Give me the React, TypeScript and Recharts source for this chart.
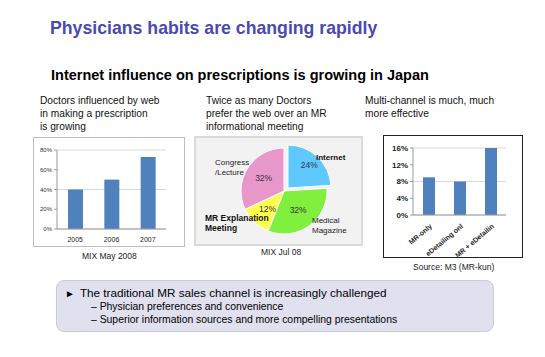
import React from "react";
import { BarChart, Bar, XAxis, YAxis, CartesianGrid, PieChart, Pie, Cell } from "recharts";

// chart 1: doctors influenced by web
const yearLabels = ["2005", "2006", "2007"];
const webInfluence = [40, 50, 73];
const yearTicks = [0, 20, 40, 60, 80];

// chart 2: preferred information source
const sourceNames = ["Internet", "Medical Magazine", "MR Explanation Meeting", "Congress /Lecture"];
const sourceShares = [24, 32, 12, 32];
const sourceColors = ["#5FC9FF", "#80EF3E", "#FFFF4F", "#E897CA"];

// chart 3: multi-channel effectiveness
const channelLabels = ["MR-only", "eDetailing onl", "MR + eDetailin"];
const channelEffect = [9, 8, 16];
const channelTicks = [0, 4, 8, 12, 16];

const yearData = yearLabels.map((year, i) => ({ year, value: webInfluence[i] }));
const sourceData = sourceNames.map((name, i) => ({ name, value: sourceShares[i] }));
const channelData = channelLabels.map((channel, i) => ({ channel, value: channelEffect[i] }));

const FONT = "Liberation Sans, Arial, sans-serif";
const RAD = Math.PI / 180;

const abs = (left: number, top: number, extra: React.CSSProperties = {}): React.CSSProperties => ({
  position: "absolute",
  left,
  top,
  whiteSpace: "nowrap",
  ...extra,
});

// percent label inside each slice; exploded pie only labels the Internet slice
const pctLabel = (onlyFirst: boolean) => (props: any) => {
  const { cx, cy, midAngle, outerRadius, index, value } = props;
  if (onlyFirst !== (index === 0)) return null;
  const r = outerRadius * (index === 0 ? 0.72 : 0.56);
  const x = cx + r * Math.cos(-midAngle * RAD);
  const y = cy + r * Math.sin(-midAngle * RAD);
  return (
    <text x={x} y={y} textAnchor="middle" dominantBaseline="central" fontSize={8.5} fill="#333" fontFamily={FONT}>
      {value}%
    </text>
  );
};

const RotatedTick = (props: any) => {
  const { x, y, payload } = props;
  return (
    <g transform={`translate(${x + 4},${y + 4})`}>
      <text textAnchor="end" transform="rotate(-40)" fontSize={7} fontWeight="bold" fill="#222" fontFamily={FONT}>
        {payload.value}
      </text>
    </g>
  );
};

export default function App() {
  return (
    <div style={{ position: "fixed", left: 0, top: 0, width: 545, height: 357, background: "#fff", fontFamily: FONT, overflow: "hidden" }}>
      <div style={abs(50, 18, { fontSize: 17.7, fontWeight: "bold", color: "#4A4AAE" })}>
        Physicians habits are changing rapidly
      </div>
      <div style={abs(51, 67, { fontSize: 14.5, fontWeight: "bold", color: "#000" })}>
        Internet influence on prescriptions is growing in Japan
      </div>

      <div style={abs(40, 94, { fontSize: 10.2, lineHeight: "13px", color: "#111" })}>
        Doctors influenced by web<br />in making a prescription<br />is growing
      </div>
      <div style={abs(206, 94, { fontSize: 10.2, lineHeight: "13px", color: "#111" })}>
        Twice as many Doctors<br />prefer the web over an MR<br />informational meeting
      </div>
      <div style={abs(365, 94, { fontSize: 10.2, lineHeight: "13px", color: "#111" })}>
        Multi-channel is much, much<br />more effective
      </div>

      {/* chart 1 */}
      <div style={abs(33, 137, { width: 150, height: 108, border: "1px solid #BFBFBF", background: "#fff" })}>
        <BarChart width={150} height={108} data={yearData} margin={{ top: 12, right: 18, left: 0, bottom: 0 }}>
          <CartesianGrid vertical={false} stroke="#D9D9D9" />
          <XAxis
            dataKey="year"
            height={17}
            tickLine={false}
            axisLine={{ stroke: "#9A9A9A" }}
            tick={{ fontSize: 7, fill: "#222", fontFamily: FONT }}
            tickMargin={2}
          />
          <YAxis
            width={23}
            domain={[0, 80]}
            ticks={yearTicks}
            tickFormatter={(v: number) => `${v}%`}
            tick={{ fontSize: 6, fill: "#333", fontFamily: FONT }}
            axisLine={{ stroke: "#9A9A9A" }}
            tickLine={{ stroke: "#9A9A9A" }}
            tickSize={3}
          />
          <Bar dataKey="value" fill="#4F81BD" barSize={15} isAnimationActive={false} />
        </BarChart>
      </div>
      <div style={abs(82, 251, { fontSize: 8.5, color: "#222" })}>MIX May 2008</div>

      {/* chart 2 */}
      <div style={abs(194, 136, { width: 165, height: 106, border: "2px solid #DADADA", background: "#F2F2F2" })}>
        <PieChart width={165} height={106} margin={{ top: 0, right: 0, bottom: 0, left: 0 }}>
          <Pie
            data={sourceData}
            dataKey="value"
            cx={88}
            cy={53}
            outerRadius={43}
            startAngle={90}
            endAngle={-270}
            stroke="#fff"
            strokeWidth={1}
            label={pctLabel(false)}
            labelLine={false}
            isAnimationActive={false}
          >
            {sourceData.map((d, i) => (
              <Cell key={d.name} fill={i === 0 ? "transparent" : sourceColors[i]} stroke={i === 0 ? "none" : "#fff"} />
            ))}
          </Pie>
          <Pie
            data={sourceData}
            dataKey="value"
            cx={92}
            cy={50}
            outerRadius={43}
            startAngle={90}
            endAngle={-270}
            label={pctLabel(true)}
            labelLine={false}
            isAnimationActive={false}
          >
            {sourceData.map((d, i) => (
              <Cell key={d.name} fill={i === 0 ? sourceColors[0] : "transparent"} stroke={i === 0 ? "#fff" : "none"} />
            ))}
          </Pie>
        </PieChart>
      </div>
      <div style={abs(316, 153, { fontSize: 8, fontWeight: "bold", color: "#111" })}>Internet</div>
      <div style={abs(215, 158, { fontSize: 8, lineHeight: "10px", color: "#222" })}>
        Congress<br />/Lecture
      </div>
      <div style={abs(205, 213, { fontSize: 8.5, lineHeight: "10px", fontWeight: "bold", color: "#111" })}>
        MR Explanation<br />Meeting
      </div>
      <div style={abs(312, 216, { fontSize: 8, lineHeight: "10px", color: "#222" })}>
        Medical<br />Magazine
      </div>
      <div style={abs(261, 247, { fontSize: 8.5, color: "#222" })}>MIX Jul 08</div>

      {/* chart 3 */}
      <div style={abs(383, 135, { width: 138, height: 121, border: "1.5px solid #222", background: "#fff", overflow: "hidden" })}>
        <BarChart width={140} height={123} data={channelData} margin={{ top: 12, right: 18, left: 0, bottom: 0 }}>
          <CartesianGrid vertical={false} stroke="#D9D9D9" />
          <XAxis
            dataKey="channel"
            height={44}
            interval={0}
            tickLine={false}
            axisLine={{ stroke: "#9A9A9A" }}
            tick={<RotatedTick />}
          />
          <YAxis
            width={29}
            domain={[0, 16]}
            ticks={channelTicks}
            tickFormatter={(v: number) => `${v}%`}
            tick={{ fontSize: 8, fontWeight: "bold", fill: "#222", fontFamily: FONT }}
            axisLine={{ stroke: "#9A9A9A" }}
            tickLine={{ stroke: "#9A9A9A" }}
            tickSize={3}
          />
          <Bar dataKey="value" fill="#4F81BD" barSize={12} isAnimationActive={false} />
        </BarChart>
      </div>
      <div style={abs(413, 262, { fontSize: 8.5, color: "#222" })}>Source: M3 (MR-kun)</div>

      {/* takeaway box */}
      <div style={abs(56, 280, { width: 436, height: 50, background: "#E0E0EF", border: "1px solid #CACADF", borderRadius: 8 })} />
      <div style={abs(65, 286, { fontSize: 11.7, color: "#000" })}>
        <span style={{ fontSize: 10, marginRight: 5 }}>►</span>The traditional MR sales channel is increasingly challenged
      </div>
      <div style={abs(91, 300, { fontSize: 10.4, lineHeight: "13px", color: "#000" })}>
        – Physician preferences and convenience<br />– Superior information sources and more compelling presentations
      </div>
    </div>
  );
}
